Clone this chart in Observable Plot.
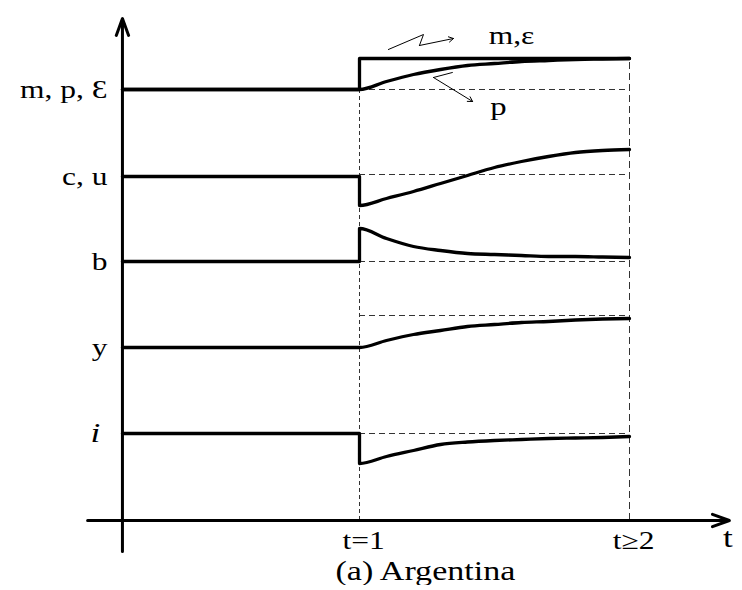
<!DOCTYPE html>
<html>
<head>
<meta charset="utf-8">
<script src="https://cdn.jsdelivr.net/npm/d3@7"></script>
<script src="https://cdn.jsdelivr.net/npm/@observablehq/plot@0.6"></script>
<style>
  body { margin: 0; background: #fff; }
  #caption { width: 742px; box-sizing: border-box; padding-left: 108px; text-align: center;
    font-family: "Liberation Serif", serif; font-size: 27px; line-height: 28px; margin-top: -3px; color: #000; }
  #caption span { display: inline-block; transform: scaleX(1.26); }
</style>
</head>
<body>
<div id="chart"></div>
<div id="caption"><span>(a) Argentina</span></div>
<script>
// ---- data (time in periods, level in arbitrary units above the t-axis) ----
const rowLabels   = ["m, p, Ɛ", "c, u", "b", "y", "i"];
const rowBase     = [431, 344, 259, 173, 87];      // pre-shock level of each row
const refLevel    = [431, 346, 259, 205, 87];      // dashed reference level after t=1
const tOrigin     = 0.122;                          // where the vertical axis crosses
const tGrid       = [1, 1.1, 1.2, 1.3, 1.4, 1.5, 1.6, 1.7, 1.8, 1.9, 2];
const mVals       = [462, 462, 462, 462, 462, 462, 462, 462, 462, 462, 462];
const pVals       = [431, 439, 446, 451, 455, 457, 459, 460, 461, 461.5, 462];
const cuVals      = [315, 322, 329, 337, 345, 353, 359, 364, 368, 370, 371];
const bVals       = [292, 282, 274, 270, 267, 266, 265, 264, 264, 263.5, 263];
const yVals       = [173, 180, 186, 190, 194, 196, 198, 199, 200.5, 201.5, 202];
const iVals       = [57, 64, 70, 76, 78.5, 80, 81, 82, 82.5, 83, 84];
const tickLabels  = ["t=1", "t≥2"];
const tickTimes   = [1, 2];

// ---- build tables ----
const series = [
  {name: "m", base: rowBase[0], vals: mVals},
  {name: "p", base: rowBase[0], vals: pVals},
  {name: "cu", base: rowBase[1], vals: cuVals},
  {name: "b", base: rowBase[2], vals: bVals},
  {name: "y", base: rowBase[3], vals: yVals},
  {name: "i", base: rowBase[4], vals: iVals}
];
const linePts = [];
for (const s of series) {
  linePts.push({s: s.name, t: tOrigin, v: s.base});
  linePts.push({s: s.name, t: 1, v: s.base});
  tGrid.forEach((t, k) => linePts.push({s: s.name, t, v: s.vals[k]}));
}
const refs = refLevel.map(v => ({t1: 1, t2: 2, v}));
const labels = rowLabels.map((l, k) => ({label: l, v: rowBase[k], italic: l === "i"}));

// annotation zig-zags
const zigM = [{t: 1.107, v: 471}, {t: 1.237, v: 486}, {t: 1.222, v: 475}];
const zigMEnd = {t1: 1.222, v1: 475, t2: 1.348, v2: 482};
const zigP = [{t: 1.344, v: 448}, {t: 1.274, v: 443}];
const zigPEnd = {t1: 1.274, v1: 443, t2: 1.419, v2: 419};

const serif = "Liberation Serif";

const chart = Plot.plot({
  width: 742,
  height: 560,
  margin: 0,
  x: {domain: [-89/270, 653/270], axis: null},
  y: {domain: [-40, 520], axis: null},
  marks: [
    // dashed reference lines
    Plot.ruleY(refs, {y: "v", x1: "t1", x2: "t2", stroke: "#333", strokeWidth: 1, strokeDasharray: "6,4"}),
    Plot.ruleX([1], {y1: 0, y2: 431, stroke: "#333", strokeWidth: 1, strokeDasharray: "4,3"}),
    Plot.ruleX([2], {y1: 0, y2: 462, stroke: "#333", strokeWidth: 1, strokeDasharray: "7,4"}),
    // axes
    Plot.arrow([{x1: tOrigin, y1: -31, x2: tOrigin, y2: 502}], {x1: "x1", y1: "y1", x2: "x2", y2: "y2", stroke: "#000", strokeWidth: 3, headLength: 9, headAngle: 40}),
    Plot.arrow([{x1: -0.007, y1: 0, x2: 2.37, y2: 0}], {x1: "x1", y1: "y1", x2: "x2", y2: "y2", stroke: "#000", strokeWidth: 3, headLength: 9, headAngle: 40}),
    // curves
    Plot.line(linePts, {x: "t", y: "v", z: "s", stroke: "#000", strokeWidth: 3.3, curve: "monotone-x"}),
    // annotation arrows
    Plot.line(zigM, {x: "t", y: "v", stroke: "#000", strokeWidth: 1}),
    Plot.arrow([zigMEnd], {x1: "t1", y1: "v1", x2: "t2", y2: "v2", stroke: "#000", strokeWidth: 1, headLength: 8}),
    Plot.line(zigP, {x: "t", y: "v", stroke: "#000", strokeWidth: 1}),
    Plot.arrow([zigPEnd], {x1: "t1", y1: "v1", x2: "t2", y2: "v2", stroke: "#000", strokeWidth: 1, headLength: 8}),
    // row labels
    Plot.text(labels.filter(d => !d.italic), {x: 0.067, y: "v", text: "label", textAnchor: "end", fontFamily: serif, fontSize: 25, fill: "#000"}),
    Plot.text(labels.filter(d => d.italic), {x: 0.04, y: "v", text: "label", textAnchor: "end", fontFamily: serif, fontStyle: "italic", fontSize: 28, fill: "#000"}),
    // annotation labels
    Plot.text(["m,ε"], {x: 1.563, y: 485, text: d => d, fontFamily: serif, fontSize: 25, fill: "#000"}),
    Plot.text(["p"], {x: 1.515, y: 414, text: d => d, fontFamily: serif, fontSize: 26, fill: "#000"}),
    // tick labels
    Plot.text(tickTimes, {x: d => d + 0.015, y: -20, text: (d, k) => tickLabels[k], fontFamily: serif, fontSize: 25, fill: "#000"}),
    Plot.text(["t"], {x: 2.365, y: -18, text: d => d, fontFamily: serif, fontSize: 28, fill: "#000"})
  ]
});
document.getElementById("chart").appendChild(chart);

// the reference's lettering is horizontally stretched: widen each label around its anchor
const stretch = 1.26;
chart.querySelectorAll("text").forEach(t => {
  const g = document.createElementNS("http://www.w3.org/2000/svg", "g");
  t.parentNode.insertBefore(g, t);
  g.appendChild(t);
  const b = g.getBBox();
  const anchor = getComputedStyle(t).textAnchor;
  const ax = anchor === "end" ? b.x + b.width : anchor === "middle" ? b.x + b.width / 2 : b.x;
  g.setAttribute("transform", `translate(${ax},0) scale(${stretch},1) translate(${-ax},0)`);
});
</script>
</body>
</html>
